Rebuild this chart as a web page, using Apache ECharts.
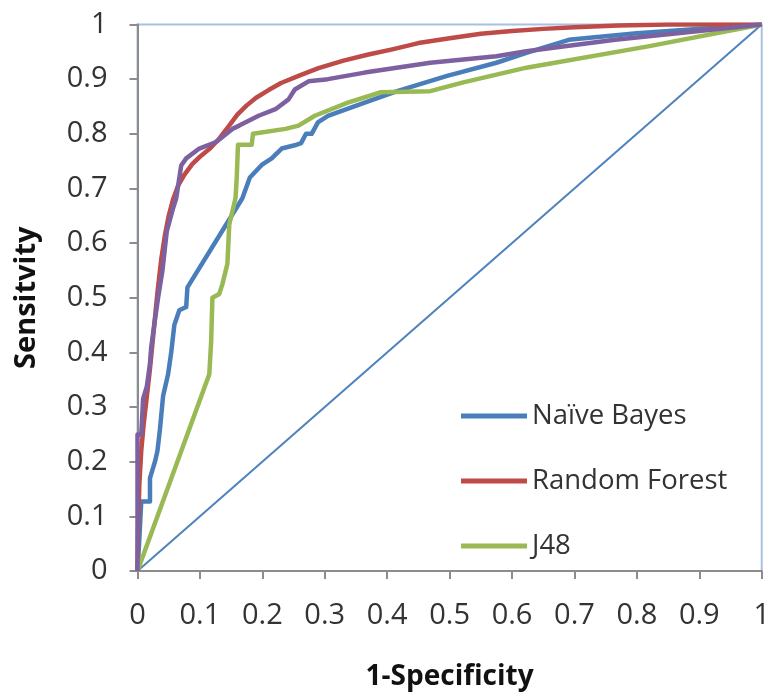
<!DOCTYPE html>
<html>
<head>
<meta charset="utf-8">
<script src="https://cdn.jsdelivr.net/npm/echarts@6/dist/echarts.min.js"></script>
<style>
html,body{margin:0;padding:0;background:#fff;}
#chart{width:773px;height:696px;}
</style>
</head>
<body>
<div id="chart"></div>
<script>
// Data
var xTickLabels = ['0','0.1','0.2','0.3','0.4','0.5','0.6','0.7','0.8','0.9','1'];
var yTickLabels = ['0','0.1','0.2','0.3','0.4','0.5','0.6','0.7','0.8','0.9','1'];
var seriesNames = ['Naïve Bayes','Random Forest','J48'];

var naiveBayes = [[0,0],[0.003,0.06],[0.006,0.127],[0.02,0.127],[0.02,0.17],[0.028,0.2],[0.032,0.22],[0.036,0.26],[0.041,0.32],[0.049,0.36],[0.054,0.40],[0.059,0.45],[0.067,0.477],[0.078,0.483],[0.080,0.519],[0.168,0.682],[0.18,0.72],[0.199,0.743],[0.215,0.755],[0.231,0.773],[0.252,0.779],[0.262,0.783],[0.27,0.80],[0.279,0.80],[0.289,0.821],[0.305,0.833],[0.364,0.857],[0.416,0.878],[0.496,0.906],[0.575,0.930],[0.623,0.948],[0.691,0.972],[0.8,0.984],[1,1]];

var randomForest = [[0,0],[0.001,0.08],[0.003,0.16],[0.006,0.22],[0.01,0.27],[0.015,0.32],[0.02,0.37],[0.026,0.44],[0.032,0.51],[0.038,0.57],[0.044,0.615],[0.05,0.65],[0.057,0.68],[0.065,0.705],[0.075,0.725],[0.088,0.745],[0.1,0.758],[0.115,0.772],[0.13,0.79],[0.145,0.812],[0.16,0.835],[0.175,0.852],[0.19,0.866],[0.21,0.88],[0.23,0.893],[0.26,0.907],[0.29,0.92],[0.33,0.934],[0.37,0.945],[0.41,0.955],[0.45,0.966],[0.5,0.975],[0.55,0.983],[0.6,0.988],[0.65,0.992],[0.7,0.995],[0.77,0.998],[0.85,1],[1,1]];

var j48 = [[0,0],[0.115,0.36],[0.118,0.42],[0.120,0.50],[0.131,0.507],[0.136,0.525],[0.144,0.562],[0.147,0.634],[0.157,0.682],[0.159,0.72],[0.161,0.78],[0.183,0.78],[0.185,0.80],[0.237,0.809],[0.258,0.815],[0.284,0.833],[0.337,0.857],[0.390,0.876],[0.469,0.878],[0.522,0.894],[0.623,0.921],[0.818,0.96],[1,1]];

var fourthModel = [[0,0],[0,0.25],[0.006,0.25],[0.009,0.315],[0.015,0.338],[0.02,0.38],[0.022,0.41],[0.028,0.46],[0.033,0.50],[0.04,0.55],[0.044,0.592],[0.047,0.622],[0.056,0.66],[0.062,0.682],[0.070,0.742],[0.078,0.755],[0.099,0.773],[0.126,0.785],[0.152,0.809],[0.163,0.815],[0.194,0.833],[0.221,0.845],[0.242,0.863],[0.252,0.881],[0.274,0.896],[0.305,0.90],[0.364,0.912],[0.469,0.930],[0.575,0.942],[0.623,0.951],[0.765,0.972],[1,1]];

var diagonal = [[0,0],[1,1]];

var chart = echarts.init(document.getElementById('chart'));
var font = 'Open Sans';
function axisCommon(labels, isX) {
  return {
    type: 'value', min: 0, max: 1, interval: 0.1,
    splitLine: { show: false },
    axisLine: { show: true, lineStyle: { color: '#8c8c8c', width: 2 } },
    axisTick: { show: true, length: 8, lineStyle: { color: '#8c8c8c', width: 2 } },
    axisLabel: {
      color: '#333', fontFamily: font, fontSize: 29,
      margin: 30,
      formatter: function (v) { return labels[Math.round(v * 10)]; }
    }
  };
}
var xa = axisCommon(xTickLabels, true);
xa.name = '1-Specificity';
xa.nameLocation = 'middle';
xa.nameGap = 92;
xa.nameTextStyle = { fontFamily: font, fontWeight: 'bold', fontSize: 28, color: '#111' };
var ya = axisCommon(yTickLabels, false);
ya.name = 'Sensitvity';
ya.nameLocation = 'middle';
ya.nameGap = 96;
ya.nameTextStyle = { fontFamily: font, fontWeight: 'bold', fontSize: 29, color: '#111' };

function lineSeries(name, data, color, width, z) {
  return { name: name, type: 'line', data: data, showSymbol: false, symbol: 'none',
    lineStyle: { color: color, width: width, join: 'round' }, itemStyle: { color: color }, z: z, animation: false };
}

chart.setOption({
  animation: false,
  grid: { left: 137.5, right: 5, top: 24.5, bottom: 119, show: true, borderColor: '#a9c1e0', borderWidth: 2, backgroundColor: 'transparent' },
  xAxis: xa,
  yAxis: ya,
  legend: {
    data: seriesNames, orient: 'vertical', left: 456, top: 396,
    icon: 'rect', itemWidth: 66, itemHeight: 5, itemGap: 35,
    textStyle: { fontFamily: font, fontSize: 27.5, color: '#333', lineHeight: 30 }
  },
  series: [
    lineSeries('diag', diagonal, '#4f81bd', 2, 1),
    lineSeries(seriesNames[0], naiveBayes, '#4a7ebb', 4.5, 2),
    lineSeries(seriesNames[1], randomForest, '#be4b48', 4.5, 3),
    lineSeries(seriesNames[2], j48, '#98b954', 4.5, 4),
    lineSeries('other', fourthModel, '#7d60a0', 4.5, 5)
  ]
});
</script>
</body>
</html>
